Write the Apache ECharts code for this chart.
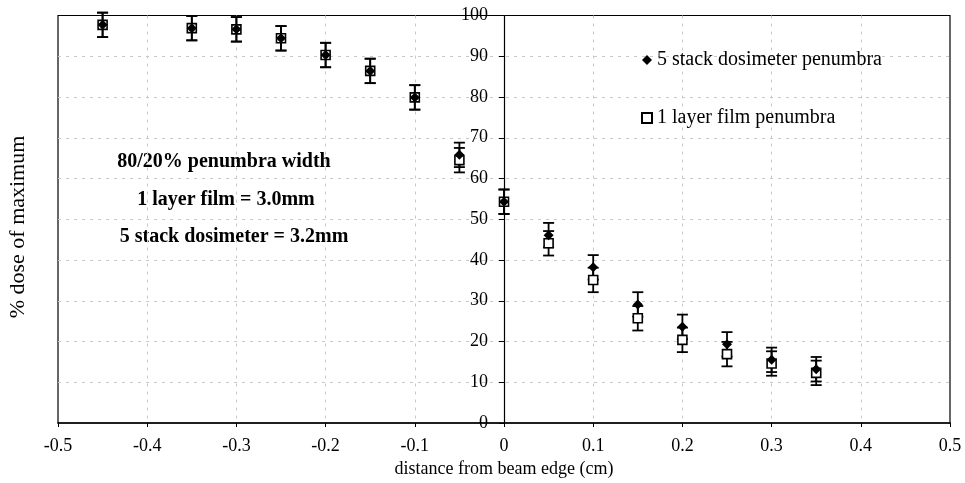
<!DOCTYPE html>
<html>
<head>
<meta charset="utf-8">
<script src="https://cdn.jsdelivr.net/npm/echarts@6/dist/echarts.min.js"></script>
<style>html,body{margin:0;padding:0;background:#fff;}#c{width:965px;height:483px;}</style>
</head>
<body>
<div id="c"></div>
<script>
const xValues   = [-0.45, -0.35, -0.3, -0.25, -0.2, -0.15, -0.1, -0.05, 0, 0.05, 0.1, 0.15, 0.2, 0.25, 0.3, 0.35];
const stackDose = [97.7, 96.9, 96.6, 94.4, 90.3, 86.4, 79.9, 65.8, 54.3, 46.1, 38.2, 29.1, 23.6, 19.3, 15.5, 13.2];
const filmDose  = [97.7, 96.9, 96.6, 94.4, 90.3, 86.4, 79.9, 64.5, 54.3, 44.1, 35.1, 25.7, 20.4, 16.9, 14.6, 12.3];
const stackErr  = [3, 3, 3, 3, 3, 3, 3, 3, 3, 3, 3, 3, 3, 3, 3, 3];
const filmErr   = [3, 3, 3, 3, 3, 3, 3, 3, 3, 3, 3, 3, 3, 3, 3, 3];
const stackName = '5 stack dosimeter penumbra';
const filmName  = '1 layer film penumbra';
const xTitle = 'distance from beam edge (cm)';
const yTitle = '% dose of maximum';
const notes = ['80/20% penumbra width', '1 layer film = 3.0mm', '5 stack dosimeter = 3.2mm'];

const FONT = 'Liberation Serif';

function errData(vals, errs) {
  return xValues.map((x, i) => [x, vals[i] - errs[i], vals[i] + errs[i]]);
}
function errRender(params, api) {
  const x = api.value(0);
  const lo = api.coord([x, api.value(1)]);
  const hi = api.coord([x, api.value(2)]);
  const cw = 5.5;
  const st = { stroke: '#000', lineWidth: 1.8 };
  return {
    type: 'group',
    children: [
      { type: 'line', shape: { x1: hi[0], y1: hi[1], x2: lo[0], y2: lo[1] }, style: st },
      { type: 'line', shape: { x1: hi[0] - cw, y1: hi[1], x2: hi[0] + cw, y2: hi[1] }, style: st },
      { type: 'line', shape: { x1: lo[0] - cw, y1: lo[1], x2: lo[0] + cw, y2: lo[1] }, style: st }
    ]
  };
}

const chart = echarts.init(document.getElementById('c'));
const fmtX = v => Math.abs(v) < 1e-9 ? '0' : v.toFixed(1);
const gridLine = { show: true, showMinLine: false, showMaxLine: false, lineStyle: { color: '#c8c8c8', type: [3, 5], width: 1 } };

chart.setOption({
  animation: false,
  backgroundColor: '#fff',
  textStyle: { fontFamily: FONT, color: '#000' },
  grid: { left: 58, right: 15, top: 15.5, bottom: 60, show: true, borderColor: '#000', borderWidth: 1.2 },
  xAxis: {
    type: 'value', min: -0.5, max: 0.5, interval: 0.1,
    name: xTitle, nameLocation: 'middle', nameGap: 30,
    nameTextStyle: { fontFamily: FONT, fontSize: 18, color: '#000' },
    axisLine: { onZero: false, lineStyle: { color: '#000', width: 1.6 } },
    axisTick: { show: true, length: 4, lineStyle: { color: '#000' } },
    axisLabel: { formatter: fmtX, fontFamily: FONT, fontSize: 18, color: '#000', margin: 14 },
    splitLine: gridLine
  },
  yAxis: {
    type: 'value', min: 0, max: 100, interval: 10,
    axisLine: { onZero: true, lineStyle: { color: '#000', width: 1.2 } },
    axisTick: { show: true, length: 5, lineStyle: { color: '#000' } },
    axisLabel: { fontFamily: FONT, fontSize: 18, color: '#000', margin: -430 },
    splitLine: gridLine
  },
  legend: {
    orient: 'vertical', left: 636, top: 45, itemGap: 38,
    itemWidth: 10, itemHeight: 10,
    data: [stackName, filmName],
    textStyle: { fontFamily: FONT, fontSize: 20, color: '#000' }
  },
  graphic: [
    { type: 'text', x: 18, y: 227, rotation: Math.PI / 2,
      style: { text: yTitle, font: '22px "Liberation Serif"', fill: '#000', align: 'center', verticalAlign: 'middle' } },
    { type: 'text', x: 224, y: 162,
      style: { text: notes[0], font: 'bold 20px "Liberation Serif"', fill: '#000', align: 'center', verticalAlign: 'middle' } },
    { type: 'text', x: 226, y: 200,
      style: { text: notes[1], font: 'bold 20px "Liberation Serif"', fill: '#000', align: 'center', verticalAlign: 'middle' } },
    { type: 'text', x: 234, y: 237,
      style: { text: notes[2], font: 'bold 20px "Liberation Serif"', fill: '#000', align: 'center', verticalAlign: 'middle' } }
  ],
  series: [
    { type: 'custom', name: 'filmErr', renderItem: errRender, data: errData(filmDose, filmErr), z: 2, silent: true },
    { type: 'custom', name: 'stackErr', renderItem: errRender, data: errData(stackDose, stackErr), z: 2, silent: true },
    { type: 'scatter', name: filmName, symbol: 'rect', symbolSize: 9,
      itemStyle: { color: '#fff', borderColor: '#000', borderWidth: 1.6, opacity: 1 },
      data: xValues.map((x, i) => [x, filmDose[i]]), z: 3 },
    { type: 'scatter', name: stackName, symbol: 'diamond', symbolSize: 10,
      itemStyle: { color: '#000', opacity: 1 },
      data: xValues.map((x, i) => [x, stackDose[i]]), z: 4 }
  ]
});
</script>
</body>
</html>
